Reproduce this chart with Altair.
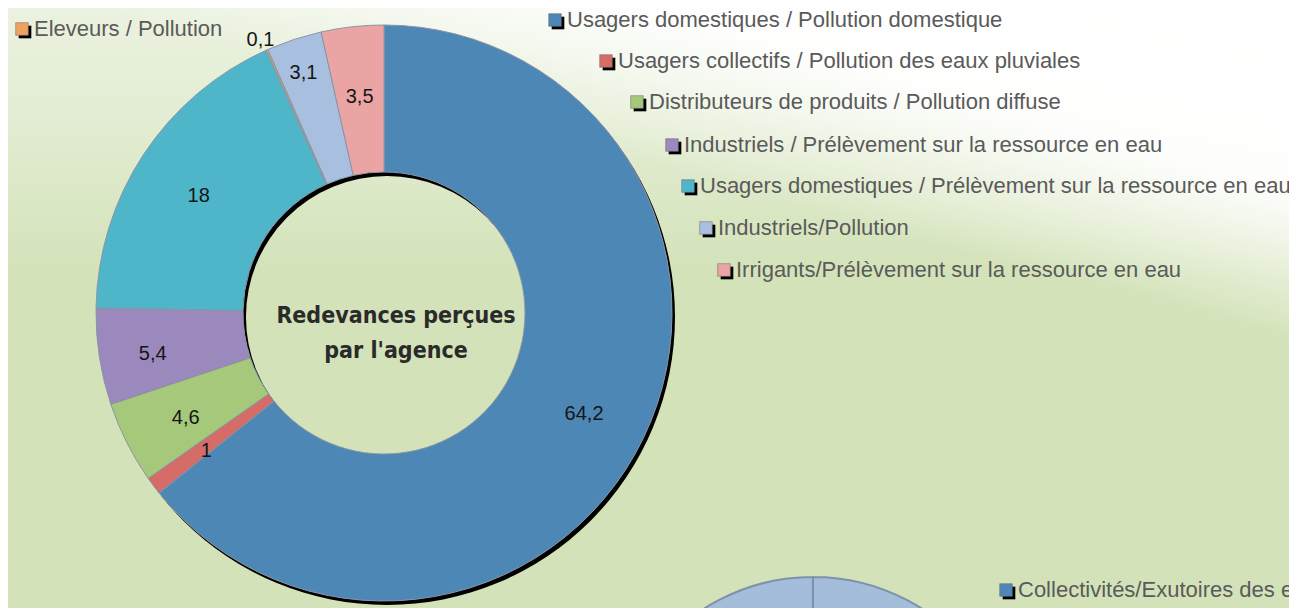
import altair as alt
import pandas as pd
import math

# ---------------- data ----------------
categories = [
    "Usagers domestiques / Pollution domestique",
    "Usagers collectifs / Pollution des eaux pluviales",
    "Distributeurs de produits / Pollution diffuse",
    "Industriels / Prélèvement sur la ressource en eau",
    "Usagers domestiques / Prélèvement sur la ressource en eau",
    "Eleveurs / Pollution",
    "Industriels/Pollution",
    "Irrigants/Prélèvement sur la ressource en eau",
]
values = [64.2, 1, 4.6, 5.4, 18, 0.1, 3.1, 3.5]
legend_order = [0, 1, 2, 3, 4, 6, 7]  # staggered legend on the right
center_title = "Redevances perçues\npar l'agence"
second_legend = "Collectivités/Exutoires des eaux usées"

# ---------------- styles / layout ----------------
colors = ["#4c87b5", "#d66c68", "#a6c87a", "#9b88bd", "#4fb6ca", "#f0a060", "#a9bfdf", "#eba4a4"]
W, H = 1281, 600
CX, CY = 376, 305
R_OUT, R_IN = 288, 141
label_radius = {3: 234, 5: 304, 6: 258}
base_label_r = 222
legend_pos = [(547, 12), (598, 53), (629, 94), (664, 137), (680, 178), (698, 220), (716, 262)]
orange_legend_pos = (14, 21)
LEG_FONT = 22

def fmt(v):
    return ("%g" % v).replace(".", ",")

total = sum(values)
df = pd.DataFrame({
    "cat": categories,
    "value": values,
    "idx": list(range(len(values))),
    "label": [fmt(v) for v in values],
    "lr": [label_radius.get(i, base_label_r) for i in range(len(values))],
})

leg_rows = []
for k, i in enumerate(legend_order):
    leg_rows.append({"name": categories[i], "color": colors[i],
                     "sx": legend_pos[k][0], "sy": legend_pos[k][1]})
leg_rows.append({"name": categories[5], "color": colors[5],
                 "sx": orange_legend_pos[0], "sy": orange_legend_pos[1]})
leg_rows.append({"name": second_legend, "color": "#4c87b5", "sx": 998, "sy": 582})
leg = pd.DataFrame(leg_rows)
leg["tx"] = leg["sx"] + 12
leg["shx"] = leg["sx"] + 3
leg["shy"] = leg["sy"] + 3

dummy = pd.DataFrame({"a": [0]})

# ---------------- background ----------------
bg_base = alt.Chart(dummy).mark_rect(fill="#d3e2b8").encode(
    x=alt.value(0), x2=alt.value(W), y=alt.value(0), y2=alt.value(H))
bg_top = alt.Chart(dummy).mark_rect(
    fill=alt.LinearGradient(gradient="linear", x1=0, y1=0, x2=0, y2=1, stops=[
        alt.GradientStop(color="rgba(236,243,226,0.95)", offset=0),
        alt.GradientStop(color="rgba(236,243,226,0.6)", offset=0.2),
        alt.GradientStop(color="rgba(236,243,226,0)", offset=0.45)])
).encode(x=alt.value(0), x2=alt.value(W), y=alt.value(0), y2=alt.value(H))
bg_white = alt.Chart(dummy).mark_rect(
    fill=alt.LinearGradient(gradient="linear", x1=1, y1=0, x2=0.55, y2=0.75, stops=[
        alt.GradientStop(color="rgba(255,255,255,1)", offset=0),
        alt.GradientStop(color="rgba(255,255,255,0.95)", offset=0.3),
        alt.GradientStop(color="rgba(255,255,255,0)", offset=0.55)])
).encode(x=alt.value(0), x2=alt.value(W), y=alt.value(0), y2=alt.value(H))

# ---------------- donut ----------------
shadow = alt.Chart(dummy).mark_arc(
    theta=0, theta2=2 * math.pi, radius=R_OUT, radius2=R_IN, fill="#000000"
).encode(x=alt.value(CX + 3), y=alt.value(CY + 4))

color_scale = alt.Scale(domain=categories, range=colors)
theta_scale = alt.Scale(domain=[0, total], range=[0, 2 * math.pi])

arcs = alt.Chart(df).mark_arc(radius=R_OUT, radius2=R_IN, stroke="#8a96a6", strokeWidth=1).encode(
    theta=alt.Theta("value:Q", stack=True, scale=theta_scale),
    order=alt.Order("idx:Q"),
    color=alt.Color("cat:N", scale=color_scale, legend=None),
    x=alt.value(CX), y=alt.value(CY),
)
labels = alt.Chart(df).transform_window(
    cum="sum(value)", sort=[alt.SortField("idx", order="ascending")],
    frame=[None, 0]
).transform_calculate(
    mid="datum.cum - datum.value / 2"
).mark_text(font="Liberation Sans", fontSize=20, color="#151515", dy=5).encode(
    theta=alt.Theta("mid:Q", stack=None, scale=theta_scale),
    text="label:N",
    radius=alt.Radius("lr:Q", scale=None),
    x=alt.value(CX), y=alt.value(CY),
)

title = alt.Chart(dummy).mark_text(
    text=center_title.split("\n"), font="DejaVu Sans Condensed, Liberation Sans",
    fontWeight="bold", fontSize=23, color="#2a2a2a", lineHeight=35,
    align="center", baseline="middle"
).encode(x=alt.value(388), y=alt.value(308))

# second (partially visible) pie
pie2 = alt.Chart(dummy).mark_arc(
    theta=0, theta2=2 * math.pi - 0.0005, radius=203, fill="#a4bddb",
    stroke="#7f92ab", strokeWidth=2, clip=True
).encode(x=alt.value(805), y=alt.value(772))

# ---------------- legend ----------------
lg = alt.Chart(leg)
sq_shadow = lg.mark_square(size=160, color="#000000", opacity=1).encode(
    x=alt.X("shx:Q", scale=None), y=alt.Y("shy:Q", scale=None))
sq = lg.mark_square(size=160, opacity=1, stroke="#6a6a6a", strokeWidth=0.5).encode(
    x=alt.X("sx:Q", scale=None), y=alt.Y("sy:Q", scale=None),
    fill=alt.Fill("color:N", scale=None))
txt = lg.mark_text(align="left", baseline="middle", font="Liberation Sans",
                   fontSize=LEG_FONT, color="#5a5a5a", clip=True).encode(
    x=alt.X("tx:Q", scale=None), y=alt.Y("sy:Q", scale=None), text="name:N")

chart = alt.layer(
    bg_base, bg_top, bg_white, pie2, shadow, arcs, labels, title,
    sq_shadow, sq, txt
).properties(
    width=W, height=H, padding=0, autosize=alt.AutoSizeParams(type="none"),
    background="#d3e2b8"
).configure_view(stroke=None)

chart.save("out.html", embed_options={"renderer": "svg", "actions": False})
